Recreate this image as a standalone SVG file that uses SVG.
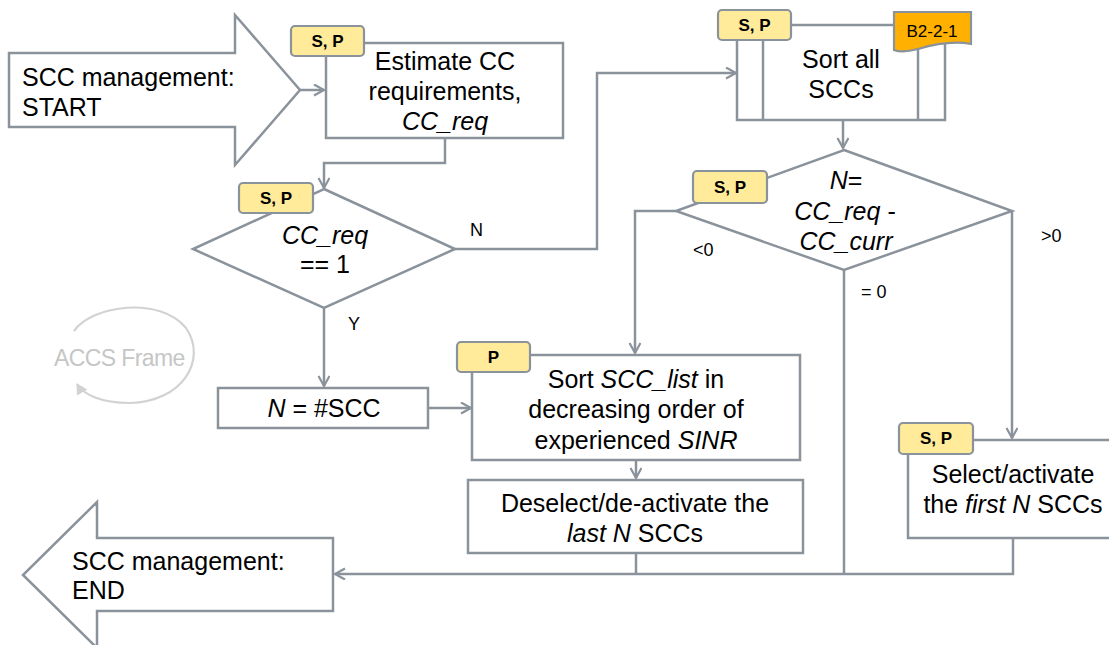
<svg xmlns="http://www.w3.org/2000/svg" width="1109" height="645" viewBox="0 0 1109 645">
  <defs>
    <marker id="arr" markerWidth="14" markerHeight="14" refX="11" refY="6" orient="auto" markerUnits="userSpaceOnUse">
      <path d="M1,0.5 L11,6 L1,11.5" fill="none" stroke="#8a929b" stroke-width="2.2"/>
    </marker>
    <marker id="arrFaint" markerWidth="14" markerHeight="14" refX="10" refY="6" orient="auto" markerUnits="userSpaceOnUse">
      <path d="M0,0 L11,6 L0,12 Z" fill="#d2d2d2"/>
    </marker>
    <style>
      .box { fill: #ffffff; stroke: #8a929b; stroke-width: 2.5; }
      .line { fill: none; stroke: #8a929b; stroke-width: 2.5; }
      .tag { fill: #ffeb99; stroke: #8a929b; stroke-width: 2.2; }
      .doc { fill: #ffb000; stroke: #8a929b; stroke-width: 2.2; }
      .t { font-family: "Liberation Sans", Arial, sans-serif; font-size: 25px; fill: #000; }
      .c { text-anchor: middle; }
      .i { font-style: italic; }
      .tagt { font-family: "Liberation Sans", Arial, sans-serif; font-size: 17px; font-weight: bold; fill: #000; text-anchor: middle; }
      .lbl { font-family: "Liberation Sans", Arial, sans-serif; font-size: 18px; fill: #000; }
    </style>
  </defs>

  <!-- faint frame loop in the background -->
  <g id="accs-frame">
    <path d="M74,331 C92,305 160,296 186,328 C208,360 182,402 130,403 C100,403 83,394 77,384" fill="none" stroke="#d2d2d2" stroke-width="2.2" marker-end="url(#arrFaint)"/>
    <text x="54" y="366" font-family="'Liberation Sans', Arial, sans-serif" font-size="23" fill="#c6c6c6" letter-spacing="-0.6">ACCS Frame</text>
  </g>

  <!-- connectors -->
  <g id="connectors">
    <path class="line" d="M300,90 H324" marker-end="url(#arr)"/>
    <path class="line" d="M445,138 V163 H324 V188" marker-end="url(#arr)"/>
    <path class="line" d="M455,249 H597 V73 H736" marker-end="url(#arr)"/>
    <path class="line" d="M843,120 V148" marker-end="url(#arr)"/>
    <path class="line" d="M324,308 V386" marker-end="url(#arr)"/>
    <path class="line" d="M428,408 H471" marker-end="url(#arr)"/>
    <path class="line" d="M676,211 H635 V353" marker-end="url(#arr)"/>
    <path class="line" d="M1012,211 V438" marker-end="url(#arr)"/>
    <path class="line" d="M636,460 V478" marker-end="url(#arr)"/>
    <path class="line" d="M636,553 V574"/>
    <path class="line" d="M844,270 V574"/>
    <path class="line" d="M1013,538 V574 H335" stroke-width="3" marker-end="url(#arr)"/>
    <text class="lbl" x="470" y="236">N</text>
    <text class="lbl" x="348" y="330">Y</text>
    <text class="lbl" x="693" y="256">&lt;0</text>
    <text class="lbl" x="1041" y="242">&gt;0</text>
    <text class="lbl" x="861" y="298">= 0</text>
  </g>

  <!-- start terminal -->
  <g id="start">
    <polygon class="box" points="9,53 235,53 235,15 300,90 235,165 235,127 9,127"/>
    <text class="t" x="22" y="86">SCC management:</text>
    <text class="t" x="22" y="116">START</text>
  </g>

  <!-- estimate CC requirements -->
  <g id="estimate">
    <rect class="box" x="326" y="43" width="237" height="95"/>
    <rect class="tag" x="291" y="26" width="73" height="30" rx="4"/>
    <text class="tagt" x="327.5" y="47">S, P</text>
    <text class="t c" x="445" y="70">Estimate CC</text>
    <text class="t c" x="445" y="100">requirements,</text>
    <text class="t c i" x="445" y="130">CC_req</text>
  </g>

  <!-- decision: CC_req == 1 -->
  <g id="decision-ccreq">
    <polygon class="box" points="324,189 455,249 324,308 193,249"/>
    <rect class="tag" x="239" y="183" width="74" height="30" rx="4"/>
    <text class="tagt" x="276" y="204">S, P</text>
    <text class="t c i" x="325" y="244">CC_req</text>
    <text class="t c" x="325" y="273">== 1</text>
  </g>

  <!-- sort all SCCs (predefined process) -->
  <g id="sort-all">
    <rect class="box" x="737" y="25" width="208" height="95"/>
    <line class="line" x1="763" y1="25" x2="763" y2="120"/>
    <line class="line" x1="918" y1="25" x2="918" y2="120"/>
    <rect class="tag" x="718" y="10" width="73" height="30" rx="4"/>
    <text class="tagt" x="754.5" y="31">S, P</text>
    <path class="doc" d="M894,12 H971 V44 C955,41 935,44 918,49 C907,52 899,52 894,50 Z"/>
    <text x="932" y="37" font-family="'Liberation Sans', Arial, sans-serif" font-size="17" text-anchor="middle" fill="#000">B2-2-1</text>
    <text class="t c" x="841" y="68">Sort all</text>
    <text class="t c" x="841" y="98">SCCs</text>
  </g>

  <!-- decision: N = CC_req - CC_curr -->
  <g id="decision-n">
    <polygon class="box" points="844,150 1012,211 844,270 676,211"/>
    <rect class="tag" x="693" y="171" width="74" height="32" rx="4"/>
    <text class="tagt" x="730" y="193">S, P</text>
    <text class="t c" x="846" y="189"><tspan class="i">N</tspan>=</text>
    <text class="t c" x="845" y="220"><tspan class="i">CC_req</tspan> -</text>
    <text class="t c i" x="846" y="250">CC_curr</text>
  </g>

  <!-- N = #SCC -->
  <g id="set-n">
    <rect class="box" x="218" y="388" width="210" height="40"/>
    <text class="t c" x="324" y="417"><tspan class="i">N</tspan> = #SCC</text>
  </g>

  <!-- sort SCC_list -->
  <g id="sort-list">
    <rect class="box" x="472" y="355" width="328" height="105"/>
    <rect class="tag" x="457" y="342" width="73" height="30" rx="4"/>
    <text class="tagt" x="493.5" y="363">P</text>
    <text class="t c" x="636" y="388">Sort <tspan class="i">SCC_list</tspan> in</text>
    <text class="t c" x="636" y="418">decreasing order of</text>
    <text class="t c" x="636" y="449">experienced <tspan class="i">SINR</tspan></text>
  </g>

  <!-- deselect last N -->
  <g id="deselect">
    <rect class="box" x="468" y="480" width="335" height="73"/>
    <text class="t c" x="635" y="512">Deselect/de-activate the</text>
    <text class="t c" x="635" y="542"><tspan class="i">last N</tspan> SCCs</text>
  </g>

  <!-- select first N -->
  <g id="select">
    <rect class="box" x="908" y="440" width="220" height="98"/>
    <rect class="tag" x="899" y="423" width="74" height="31" rx="4"/>
    <text class="tagt" x="936" y="444">S, P</text>
    <text class="t c" x="1013" y="483">Select/activate</text>
    <text class="t c" x="1013" y="513">the <tspan class="i">first N</tspan> SCCs</text>
  </g>

  <!-- end terminal -->
  <g id="end">
    <polygon class="box" points="333,538 97,538 97,502 23,575 97,648 97,611 333,611"/>
    <text class="t" x="72" y="570">SCC management:</text>
    <text class="t" x="72" y="599">END</text>
  </g>
</svg>
